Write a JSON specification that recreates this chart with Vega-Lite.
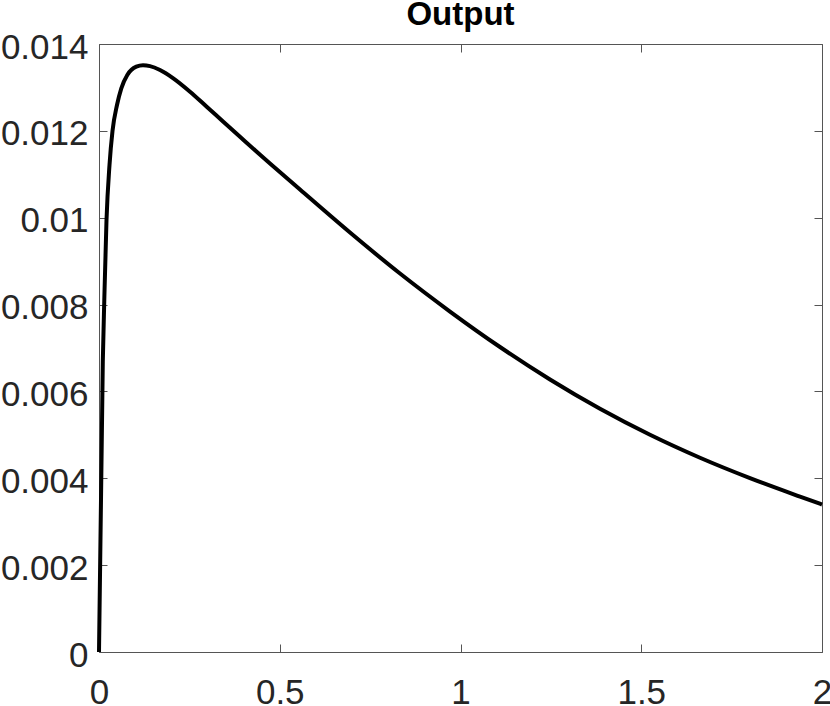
{
  "$schema": "https://vega.github.io/schema/vega-lite/v6.json",
  "width": 723,
  "height": 608,
  "autosize": {"type": "none"},
  "padding": {"left": 99, "top": 44, "right": 8, "bottom": 54},
  "background": "white",
  "title": {"text": "Output", "font": "Liberation Sans", "fontSize": 33, "fontWeight": "bold", "color": "#000000", "anchor": "middle", "frame": "group", "offset": -2},
  "data": {"values": [
    {"t": 0, "v": 0},
    {"t": 0.01051, "v": 0.006678},
    {"t": 0.01466, "v": 0.008105},
    {"t": 0.02075, "v": 0.009947},
    {"t": 0.02905, "v": 0.011214},
    {"t": 0.03734, "v": 0.011997},
    {"t": 0.04979, "v": 0.012595},
    {"t": 0.06169, "v": 0.01298},
    {"t": 0.07828, "v": 0.013286},
    {"t": 0.10318, "v": 0.013477},
    {"t": 0.12172, "v": 0.01351},
    {"t": 0.14108, "v": 0.013491},
    {"t": 0.16874, "v": 0.013401},
    {"t": 0.20553, "v": 0.01321},
    {"t": 0.25173, "v": 0.012902},
    {"t": 0.29793, "v": 0.012556},
    {"t": 0.34385, "v": 0.012211},
    {"t": 0.39004, "v": 0.011865},
    {"t": 0.43624, "v": 0.01152},
    {"t": 0.47303, "v": 0.011251},
    {"t": 0.55602, "v": 0.01065},
    {"t": 0.69433, "v": 0.009659},
    {"t": 0.83264, "v": 0.008715},
    {"t": 0.97095, "v": 0.00784},
    {"t": 1.10927, "v": 0.007023},
    {"t": 1.24758, "v": 0.006275},
    {"t": 1.38589, "v": 0.005601},
    {"t": 1.5242, "v": 0.005002},
    {"t": 1.66252, "v": 0.004473},
    {"t": 1.80083, "v": 0.004004},
    {"t": 1.93914, "v": 0.003578},
    {"t": 2.0, "v": 0.003396}
  ]},
  "config": {
    "view": {"stroke": null},
    "axis": {
      "grid": false,
      "labelFont": "Liberation Sans",
      "labelFontSize": 35,
      "labelColor": "#262626",
      "tickColor": "#555555",
      "domainColor": "#555555",
      "tickSize": -8,
      "tickWidth": 1,
      "domainWidth": 1,
      "labelFlush": false,
      "labelOverlap": false
    }
  },
  "layer": [
    {
      "mark": {"type": "line", "color": "#000000", "strokeWidth": 4, "interpolate": "monotone"},
      "encoding": {
        "x": {"field": "t", "type": "quantitative", "scale": {"domain": [0, 2], "nice": false, "zero": false},
              "axis": {"orient": "bottom", "title": null, "values": [0, 0.5, 1, 1.5, 2], "format": "~g", "labelPadding": 31}},
        "y": {"field": "v", "type": "quantitative", "scale": {"domain": [0, 0.014], "nice": false, "zero": false},
              "axis": {"orient": "left", "title": null, "values": [0, 0.002, 0.004, 0.006, 0.008, 0.01, 0.012, 0.014], "format": "~g", "labelPadding": 19, "labelOffset": 3}}
      }
    },
    {
      "mark": {"type": "line", "opacity": 0},
      "encoding": {
        "x": {"field": "t", "type": "quantitative", "scale": {"domain": [0, 2], "nice": false, "zero": false},
              "axis": {"orient": "top", "title": null, "values": [0, 0.5, 1, 1.5, 2], "labels": false}},
        "y": {"field": "v", "type": "quantitative", "scale": {"domain": [0, 0.014], "nice": false, "zero": false},
              "axis": {"orient": "right", "title": null, "values": [0, 0.002, 0.004, 0.006, 0.008, 0.01, 0.012, 0.014], "labels": false}}
      }
    }
  ],
  "resolve": {"axis": {"x": "independent", "y": "independent"}}
}
